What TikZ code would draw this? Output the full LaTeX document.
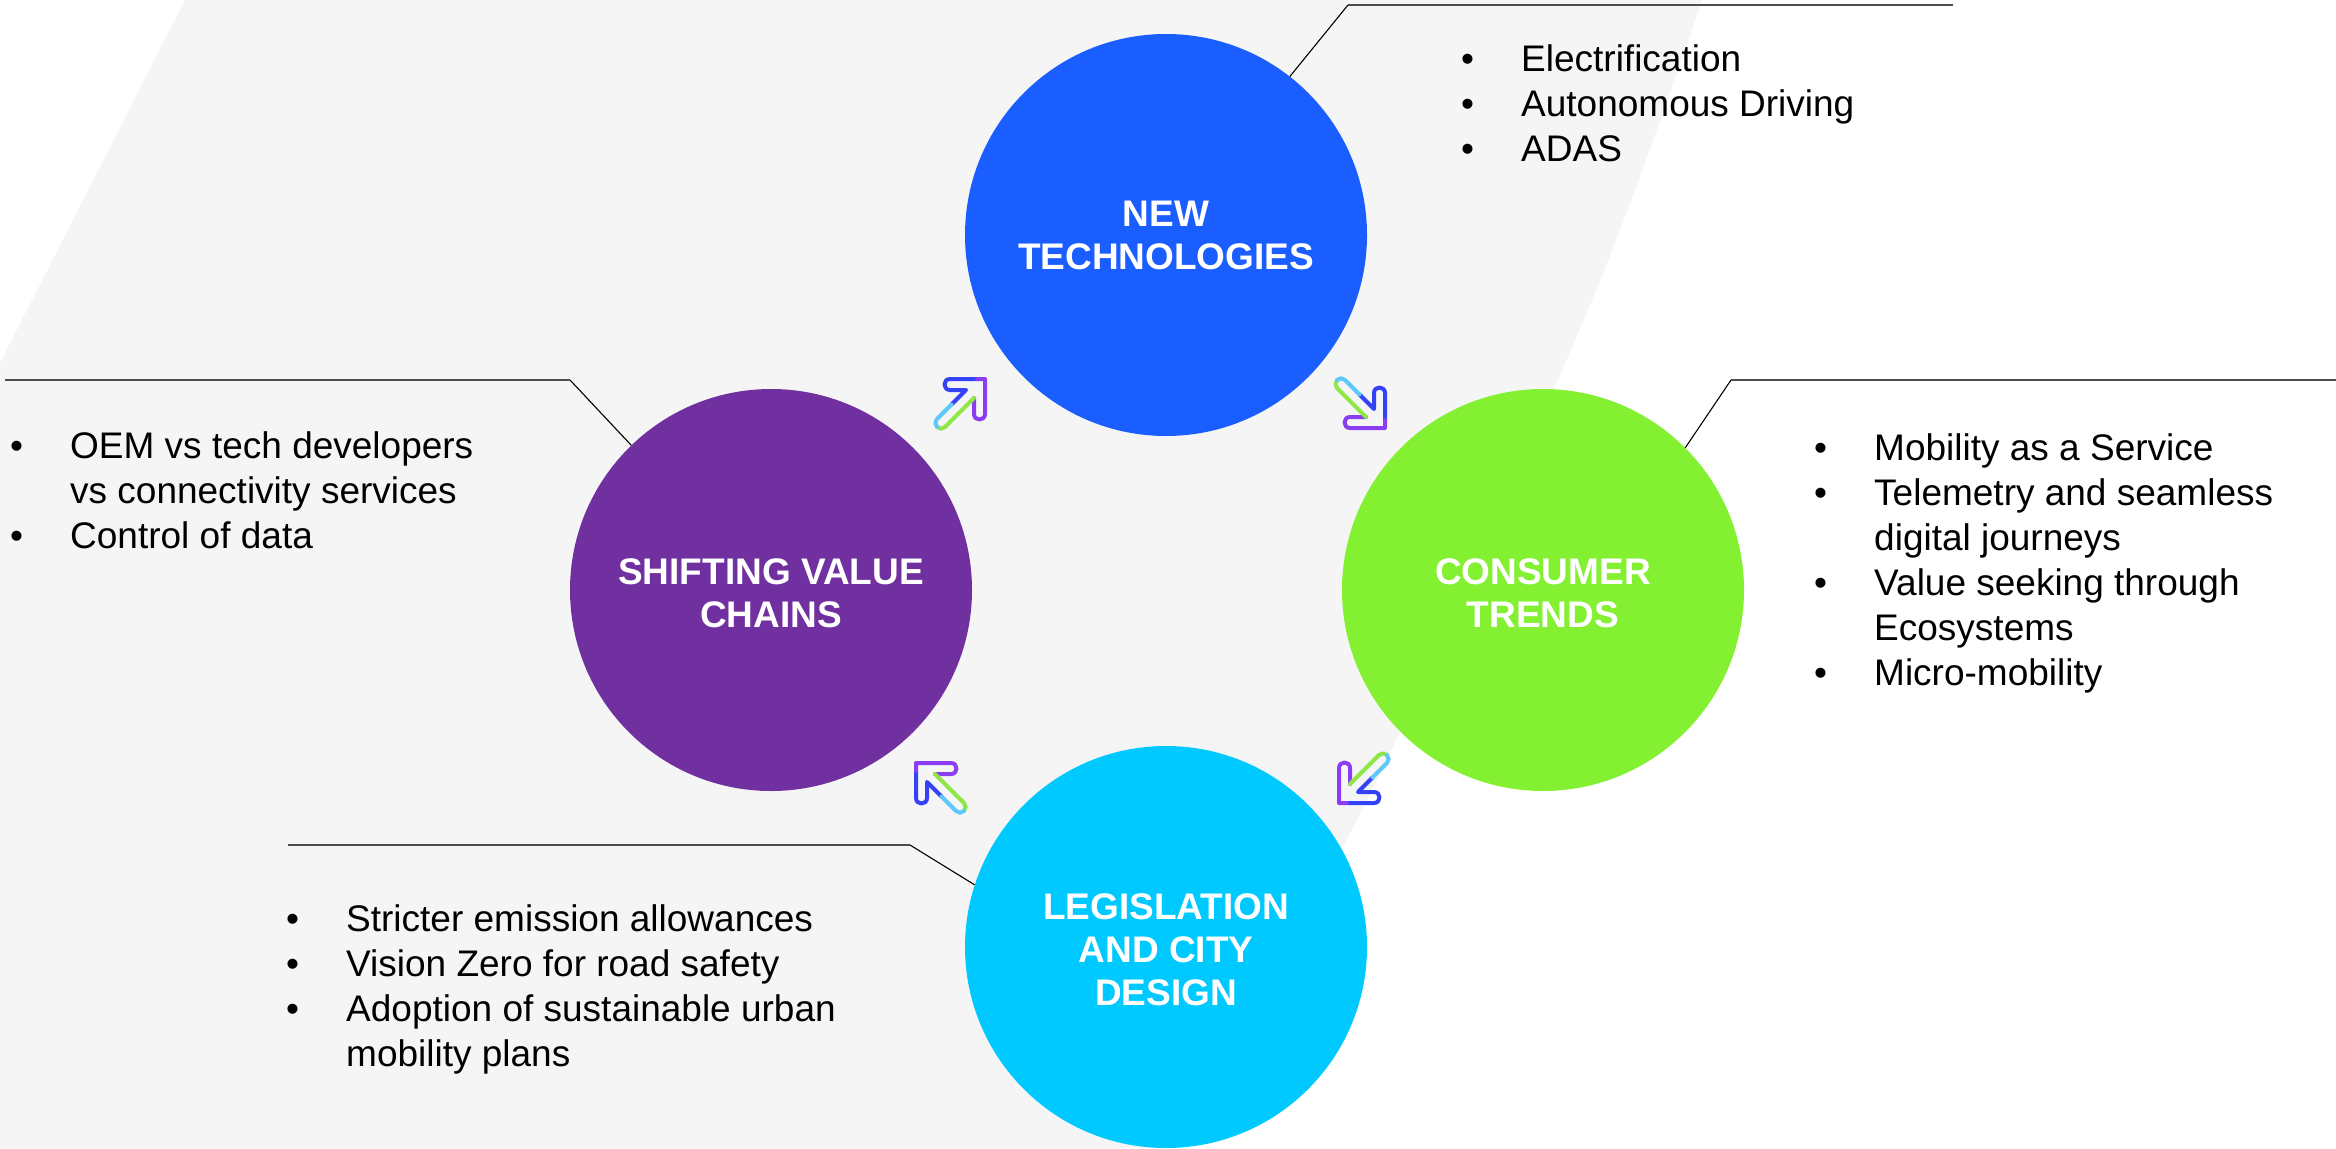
\documentclass[tikz,border=0pt]{standalone}
\usepackage{fontspec}
\setmainfont{Liberation Sans}
\definecolor{bgrey}{HTML}{F5F5F5}
\definecolor{ntblue}{HTML}{1B5EFF}
\definecolor{ctgreen}{HTML}{84F032}
\definecolor{lccyan}{HTML}{00C9FF}
\definecolor{svpurple}{HTML}{7030A0}
\definecolor{arblue}{HTML}{3442F5}
\definecolor{arpurple}{HTML}{8B3DF2}
\definecolor{argreen}{HTML}{8EE647}
\definecolor{arlight}{HTML}{5EC8FA}
\definecolor{leadgrey}{HTML}{4D4D4D}
\newcommand\bulletlist[1]{\begin{tabular}[t]{@{}p{60pt}@{}l@{}}#1\end{tabular}}
\newcommand\hublabel[1]{\begin{tabular}[t]{@{}c@{}}#1\end{tabular}}
\tikzset{
  hub/.style={circle, minimum size=402pt, inner sep=0pt, draw=none},
  listtext/.style={anchor=base west, inner sep=0pt, font={\fontsize{37}{45}\selectfont}, text=black},
  hubtext/.style={anchor=base, inner sep=0pt, font={\fontsize{37}{43}\selectfont\bfseries}, text=white},
  leadh/.style={draw=leadgrey, line width=2pt},
  leadd/.style={draw=black, line width=1.1pt},
  arseg/.style={line width=4pt, line cap=round, line join=round},
  pics/cyclearrow/.style={code={
    \draw[arseg, arblue] (-9.5,1.5) -- (5,-13) -- (-11,-13) .. controls (-18.3,-13) and (-18.3,-24) .. (-11,-24) -- (16,-24);
    \draw[arseg, arpurple] (16,-24) -- (24,-24) -- (24,11) .. controls (24,18.3) and (13,18.3) .. (13,11) -- (13,-5);
    \draw[arseg, argreen] (13,-5) -- (-16,24) .. controls (-18.21,26.21) and (-21.79,26.21) .. (-24,24);
    \draw[arseg, arlight] (-24,24) .. controls (-26.21,21.79) and (-26.21,18.21) .. (-24,16) -- (-9.5,1.5);
  }}
}
\begin{document}
\begin{tikzpicture}[x=1pt, y=-1pt]
\useasboundingbox (0,0) rectangle (2336,1148);
% background band
\fill[bgrey] (185,0) -- plot[smooth] coordinates {(1702,0) (1592,300) (1357,820) (1157,1148)} -- (0,1148) -- (0,363) -- cycle;
% hubs
\node[hub, fill=ntblue] (nt) at (1166,235) {};
\node[hub, fill=ctgreen] (ct) at (1543,590) {};
\node[hub, fill=lccyan] (lc) at (1166,947) {};
\node[hub, fill=svpurple] (sv) at (771,590) {};
% leader lines
\coordinate (ntk) at (1348,5);   \coordinate (nte) at (1953,5);
\coordinate (ctk) at (1731,380); \coordinate (cte) at (2336,380);
\coordinate (svk) at (570,380);  \coordinate (sve) at (5,380);
\coordinate (lck) at (910,845);  \coordinate (lce) at (288,845);
\draw[leadd] (nt.52) -- (ntk);  \draw[leadh] (ntk) -- (nte);
\draw[leadd] (ct.45) -- (ctk);  \draw[leadh] (ctk) -- (cte);
\draw[leadd] (sv.134) -- (svk); \draw[leadh] (svk) -- (sve);
\draw[leadd] (lc.162) -- (lck); \draw[leadh] (lck) -- (lce);
% cycle arrows
\pic at (961,403) {cyclearrow};
\pic[rotate=-90] at (1361,404) {cyclearrow};
\pic[rotate=180] at (1363,779) {cyclearrow};
\pic[rotate=90] at (940,787) {cyclearrow};
% hub labels
\node[hubtext] (ntl) at (1166,226) {\hublabel{NEW\\TECHNOLOGIES}};
\node[hubtext] (ctl) at (1543,584) {\hublabel{CONSUMER\\TRENDS}};
\node[hubtext] (lcl) at (1166,919) {\hublabel{LEGISLATION\\AND CITY\\DESIGN}};
\node[hubtext] (svl) at (771,584) {\hublabel{SHIFTING VALUE\\CHAINS}};
% bullet lists
\node[listtext] (ntlist) at (1461,71) {\bulletlist{•&Electrification\\ •&Autonomous Driving\\ •&ADAS}};
\node[listtext] (ctlist) at (1814,460) {\bulletlist{•&Mobility as a Service\\ •&Telemetry and seamless\\ &digital journeys\\ •&Value seeking through\\ &Ecosystems\\ •&Micro-mobility}};
\node[listtext] (svlist) at (10,458) {\bulletlist{•&OEM vs tech developers\\ &vs connectivity services\\ •&Control of data}};
\node[listtext] (lclist) at (286,931) {\bulletlist{•&Stricter emission allowances\\ •&Vision Zero for road safety\\ •&Adoption of sustainable urban\\ &mobility plans}};
\end{tikzpicture}
\end{document}
